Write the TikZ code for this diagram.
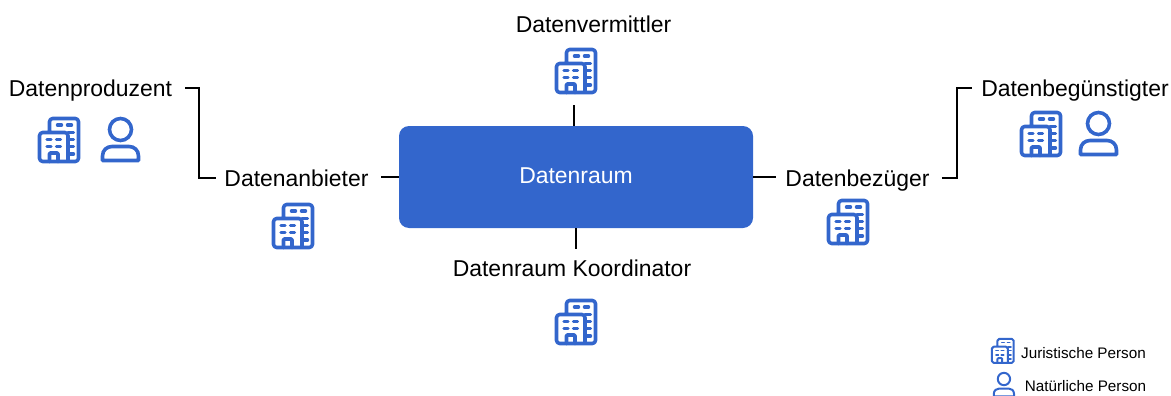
\documentclass[tikz,border=0pt]{standalone}
\usepackage{fontspec}
\setmainfont{Liberation Sans}
\usetikzlibrary{arrows,positioning}
\definecolor{raumblue}{RGB}{51,102,204}
\tikzset{
	lbl/.style={inner sep=0pt,text height=12.2pt,text depth=0pt,font=\fontsize{17.2}{20}\selectfont},
	legendlbl/.style={inner sep=0pt,text height=8.2pt,text depth=0pt,font=\fontsize{11.45}{14}\selectfont},
	raum/.style={fill=raumblue,text=white,rounded corners=7.5pt,inner sep=0pt,minimum width=265.5pt,minimum height=76.5pt,text height=12.2pt,text depth=3pt,font=\fontsize{17.2}{20}\selectfont},
	conn/.style={draw=black,line width=1.5pt},
	iconline/.style={draw=raumblue,line width=2.7pt,rounded corners=2.4pt,line cap=round,line join=round},
	iconwin/.style={draw=raumblue,line width=2.6pt,line cap=round},
	smallicon/.style={scale=.56,iconline/.append style={line width=1.5pt,rounded corners=1.4pt},iconwin/.append style={line width=1.4pt}},
	pics/building/.style={code={
		\draw[iconline] (11.5,15.5) -- (11.5,1.5) -- (40.5,1.5) -- (40.5,44.5) -- (1.5,44.5) -- (1.5,15.5) -- (30,15.5) -- (30,44.5);
		\draw[iconline,rounded corners=.6pt] (11.5,44.5) -- (11.5,36) -- (20,36) -- (20,44.5);
		% Draw windows
		\foreach \wx/\wy in {19.5/8,29.5/8,9/22.3,18.5/22.3,9/29.7,18.5/29.7}
			\draw[iconwin] (\wx,\wy) -- ++(4,0);
		\foreach \wy in {15.5,22.3,29.7,37}
			\draw[iconwin] (30,\wy) -- ++(5.5,0);
	}},
	pics/person/.style={code={
		\draw[iconline] (19.5,12.5) circle (11);
		\draw[iconline,rounded corners=0pt] (1.5,43.5) -- (1.5,39) .. controls (1.5,33) and (6,29.5) .. (11,29.5) -- (28,29.5) .. controls (33,29.5) and (37.5,33) .. (37.5,39) -- (37.5,43.5) -- cycle;
	}}
}

\begin{document}
\begin{tikzpicture}[x=.75pt,y=-.75pt]
	\useasboundingbox (0,0) rectangle (1171,396);
	% Draw nodes
	\node[raum] (datenraum) at (576,177) {Datenraum};
	\node[lbl] (vermittler) at (593.5,24) {Datenvermittler};
	\node[lbl] (produzent) at (90.5,88) {Datenproduzent};
	\node[lbl] (anbieter) at (296.5,178) {Datenanbieter};
	\node[lbl] (bezueger) at (857.5,178) {Datenbezüger};
	\node[lbl] (beguenstigter) at (1075,88) {Datenbegünstigter};
	\node[lbl] (koordinator) at (572,268) {Datenraum Koordinator};
	% Draw icons
	\pic (vermittlerBau) at (555,48) {building};
	\pic (produzentBau) at (38,117) {building};
	\pic (produzentMensch) at (101,117) {person};
	\pic (anbieterBau) at (272,203) {building};
	\pic (bezuegerBau) at (827,199) {building};
	\pic (beguenstigterBau) at (1020,111) {building};
	\pic (beguenstigterMensch) at (1079,111) {person};
	\pic (koordinatorBau) at (555,299) {building};
	% Draw legend
	\pic[smallicon] (legendeBau) at (991,338) {building};
	\pic[smallicon] (legendeMensch) at (993,372) {person};
	\node[legendlbl] (juristisch) at (1083.5,353) {Juristische Person};
	\node[legendlbl] (natuerlich) at (1085.5,386) {Natürliche Person};
	% Draw connectors
	\coordinate (vermittlerEnd) at (574,105);
	\coordinate (knickLinks) at (199,88);
	\coordinate (knickRechts) at (957,88);
	\coordinate (hoeheMitte) at (576,177.3);
	\draw[conn] (datenraum.north -| vermittlerEnd) -- (vermittlerEnd);
	\draw[conn,shorten >=8pt] (datenraum.south) -- (datenraum.south |- koordinator.north);
	\draw[conn,shorten >=9pt] (datenraum.west |- hoeheMitte) -- (anbieter.east |- hoeheMitte);
	\draw[conn,shorten >=6.75pt] (datenraum.east |- hoeheMitte) -- (bezueger.west |- hoeheMitte);
	\draw[conn,shorten <=9.75pt,shorten >=6pt] (produzent.east) -- (knickLinks) -- (knickLinks |- anbieter.west) -- (anbieter.west);
	\draw[conn,shorten <=9pt,shorten >=6.75pt] (bezueger.east) -- (knickRechts |- bezueger.east) -- (knickRechts) -- (beguenstigter.west);
\end{tikzpicture}
\end{document}
